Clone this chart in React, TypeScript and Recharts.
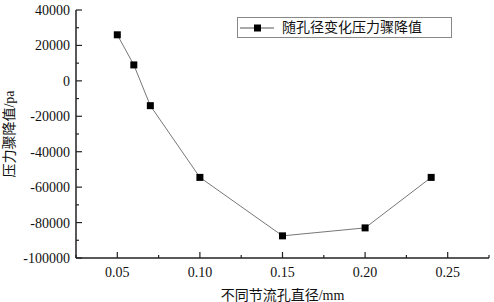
import React from "react";
import { LineChart, Line, XAxis, YAxis, Legend } from "recharts";

const diameters = [0.05, 0.06, 0.07, 0.1, 0.15, 0.2, 0.24];
const pressureDrops = [26000, 9000, -14000, -54500, -87500, -83000, -54500];
const xTicks = [0.025, 0.05, 0.075, 0.1, 0.125, 0.15, 0.175, 0.2, 0.225, 0.25, 0.275];
const yTicks = [-100000, -90000, -80000, -70000, -60000, -50000, -40000, -30000, -20000, -10000, 0, 10000, 20000, 30000, 40000];
const seriesName = "随孔径变化压力骤降值";
const xTitle = "不同节流孔直径/mm";
const yTitle = "压力骤降值/pa";

const data = diameters.map((d, i) => ({ d, v: pressureDrops[i] }));

const FONT = "'Liberation Serif', 'Noto Sans CJK SC', serif";

const XTick = (props: any) => {
  const { x, y, payload } = props;
  const v = payload.value;
  const major = Math.round(v * 1000) % 50 === 0;
  return (
    <g>
      <line x1={x} x2={x} y1={y} y2={y - (major ? 6 : 3)} stroke="#222" strokeWidth={1.2} />
      {major && (
        <text x={x} y={y + 19} textAnchor="middle" fontFamily={FONT} fontSize={14} fill="#111">
          {v.toFixed(2)}
        </text>
      )}
    </g>
  );
};

const YTick = (props: any) => {
  const { x, y, payload } = props;
  const v = payload.value;
  const major = v % 20000 === 0;
  return (
    <g>
      <line x1={x} x2={x + (major ? 6 : 3)} y1={y} y2={y} stroke="#222" strokeWidth={1.2} />
      {major && (
        <text x={x - 6} y={y + 5} textAnchor="end" fontFamily={FONT} fontSize={14} fill="#111">
          {String(v)}
        </text>
      )}
    </g>
  );
};

const SquareDot = (props: any) => {
  const { cx, cy } = props;
  if (cx == null || cy == null) return null;
  return <rect x={cx - 3.5} y={cy - 3.5} width={7} height={7} fill="#000" />;
};

const LegendBox = () => (
  <div
    style={{
      width: 213,
      height: 19,
      border: "1px solid #888",
      display: "flex",
      alignItems: "center",
      background: "#fff",
    }}
  >
    <svg width={40} height={19}>
      <line x1={2} x2={36} y1={10} y2={10} stroke="#555" strokeWidth={1} />
      <rect x={16} y={6.5} width={7} height={7} fill="#000" />
    </svg>
    <span style={{ fontFamily: FONT, fontSize: 14, color: "#111", marginLeft: 4, lineHeight: "19px" }}>
      {seriesName}
    </span>
  </div>
);

export default function App() {
  return (
    <div style={{ position: "absolute", left: 0, top: 0, background: "#fff" }}>
      <LineChart width={494} height={302} data={data} margin={{ top: 10, right: 5, bottom: 0, left: 16 }}>
        <XAxis
          dataKey="d"
          type="number"
          domain={[0.025, 0.275]}
          ticks={xTicks}
          tick={<XTick />}
          tickLine={false}
          tickSize={0}
          tickMargin={0}
          axisLine={{ stroke: "#222", strokeWidth: 1.5 }}
          height={44}
          interval={0}
          allowDataOverflow
          label={{ value: xTitle, position: "insideBottom", offset: 0, dy: -2, fontFamily: FONT, fontSize: 14, fill: "#111" }}
        />
        <YAxis
          type="number"
          domain={[-100000, 40000]}
          ticks={yTicks}
          tick={<YTick />}
          tickLine={false}
          tickSize={0}
          tickMargin={0}
          axisLine={{ stroke: "#222", strokeWidth: 1.5 }}
          width={60}
          interval={0}
          allowDataOverflow
          label={{ value: yTitle, angle: -90, position: "center", dx: -37, fontFamily: FONT, fontSize: 14, fill: "#111" }}
        />
        <Legend
          verticalAlign="middle"
          align="center"
          layout="horizontal"
          wrapperStyle={{ position: "absolute", left: 237, top: 17, width: 215 }}
          content={() => <LegendBox />}
        />
        <Line
          dataKey="v"
          name={seriesName}
          stroke="#777"
          strokeWidth={1}
          dot={<SquareDot />}
          activeDot={false}
          isAnimationActive={false}
        />
      </LineChart>
    </div>
  );
}
